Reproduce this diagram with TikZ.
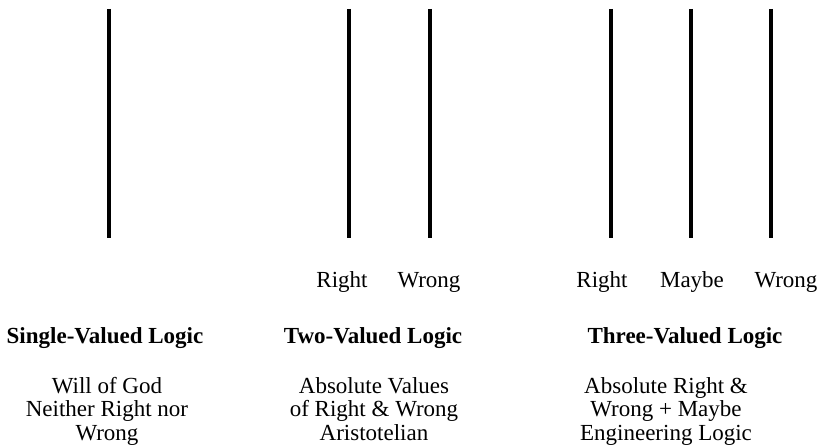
\documentclass[tikz,border=0pt]{standalone}
\usepackage{fontspec}
\setmainfont{Liberation Serif}
\usepackage{tikz}

\tikzset{
  valueline/.style={line width=3.2pt},
  valuelabel/.style={anchor=base, inner sep=0pt, font=\fontsize{23}{23.5}\selectfont},
  logictitle/.style={anchor=base, inner sep=0pt, font=\fontsize{23}{23.5}\selectfont\bfseries},
  logicnote/.style={anchor=north, inner sep=0pt, align=center, font=\fontsize{23}{23.5}\selectfont},
}

\begin{document}
\begin{tikzpicture}[x=1pt, y=-1pt]
    \useasboundingbox (0,0) rectangle (821,446);
    % single-valued
    \coordinate (s1top) at (109,9);
    \coordinate (s1bot) at (109,238);
    \draw[valueline] (s1top) -- (s1bot);
    % two-valued
    \coordinate (t1top) at (349,9);
    \coordinate (t1bot) at (349,238);
    \coordinate (t2top) at (430,9);
    \coordinate (t2bot) at (430,238);
    \draw[valueline] (t1top) -- (t1bot);
    \draw[valueline] (t2top) -- (t2bot);
    % three-valued
    \coordinate (h1top) at (611,9);
    \coordinate (h1bot) at (611,238);
    \coordinate (h2top) at (691,9);
    \coordinate (h2bot) at (691,238);
    \coordinate (h3top) at (771,9);
    \coordinate (h3bot) at (771,238);
    \draw[valueline] (h1top) -- (h1bot);
    \draw[valueline] (h2top) -- (h2bot);
    \draw[valueline] (h3top) -- (h3bot);

    \node[valuelabel] (tright) at (342,287) {Right};
    \node[valuelabel] (twrong) at (429,287) {Wrong};
    \node[valuelabel] (hright) at (602,287) {Right};
    \node[valuelabel] (hmaybe) at (692,287) {Maybe};
    \node[valuelabel] (hwrong) at (786,287) {Wrong};

    \node[logictitle] (single) at (105,343) {Single-Valued Logic};
    \node[logictitle] (two) at (373,343) {Two-Valued Logic};
    \node[logictitle] (three) at (685,343) {Three-Valued Logic};

    \node[logicnote] (singlenote) at (107,377) {Will of God\\Neither Right nor\\Wrong};
    \node[logicnote] (twonote) at (374,377) {Absolute Values\\of Right \& Wrong\\Aristotelian};
    \node[logicnote] (threenote) at (666,377) {Absolute Right \&\\Wrong + Maybe\\Engineering Logic};
\end{tikzpicture}
\end{document}
